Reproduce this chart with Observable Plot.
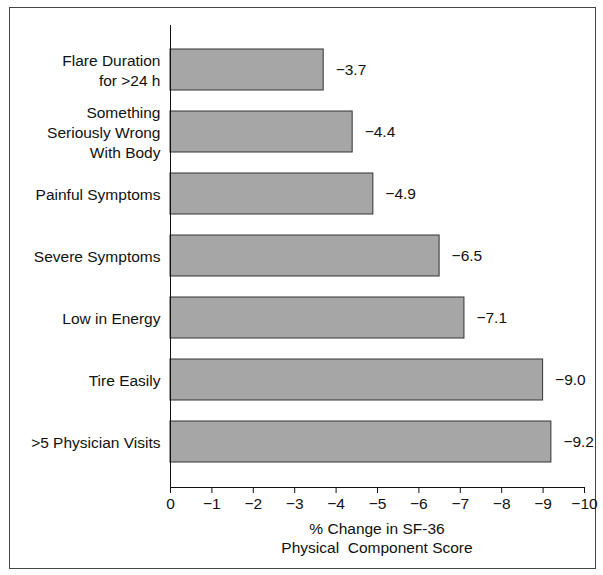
<!DOCTYPE html>
<html><head><meta charset="utf-8">
<script src="https://cdn.jsdelivr.net/npm/d3@7"></script>
<script src="https://cdn.jsdelivr.net/npm/@observablehq/plot@0.6"></script>
<style>
body{margin:0;background:#fff;font-family:"Liberation Sans",Arial,sans-serif;}
#box{position:absolute;left:9px;top:7px;width:587px;height:562px;border:1px solid #444;box-sizing:border-box;}
#chart{position:absolute;left:0;top:0;}
#xlabel{position:absolute;left:227px;width:300px;top:519px;text-align:center;font-size:15.5px;line-height:19px;color:#111;white-space:pre;}
</style></head>
<body>
<div id="box"></div>
<div id="chart"></div>
<div id="xlabel">% Change in SF-36
Physical  Component Score</div>
<script>
const categories = ["Flare Duration\nfor >24 h", "Something\nSeriously Wrong\nWith Body", "Painful Symptoms", "Severe Symptoms", "Low in Energy", "Tire Easily", ">5 Physician Visits"];
const values = [-3.7, -4.4, -4.9, -6.5, -7.1, -9.0, -9.2];
const xTicks = [0, -1, -2, -3, -4, -5, -6, -7, -8, -9, -10];

const data = categories.map((c, i) => ({category: c, value: values[i]}));
const fmt = v => v === 0 ? "0" : "\u2212" + Math.abs(v).toString();
const fmt1 = v => "\u2212" + Math.abs(v).toFixed(1);
const FS = 15.5;

const chart = Plot.plot({
  width: 603,
  height: 520,
  marginLeft: 170,
  marginRight: 19,
  marginTop: 25,
  marginBottom: 33,
  style: {fontFamily: '"Liberation Sans",Arial,sans-serif', fontSize: FS + "px", color: "#111", background: "transparent"},
  x: {domain: [0, -10]},
  y: {domain: categories, padding: 1/3},
  marks: [
    Plot.barX(data, {x: "value", y: "category", fill: "#a6a6a6", stroke: "#333", strokeWidth: 1}),
    Plot.text(data, {x: "value", y: "category", text: d => fmt1(d.value), dx: 12, textAnchor: "start", fontSize: FS, fill: "#111"}),
    Plot.axisY({tickSize: 0, tickPadding: 10, label: null, fontSize: FS, lineHeight: 1.29}),
    Plot.axisX({ticks: xTicks, tickFormat: fmt, tickSize: 6, tickPadding: 4, label: null, fontSize: FS, stroke: "#111"}),
    Plot.frame({anchor: "left", stroke: "#111"}),
    Plot.frame({anchor: "bottom", stroke: "#111"})
  ]
});
document.getElementById("chart").appendChild(chart);
</script>
</body></html>
